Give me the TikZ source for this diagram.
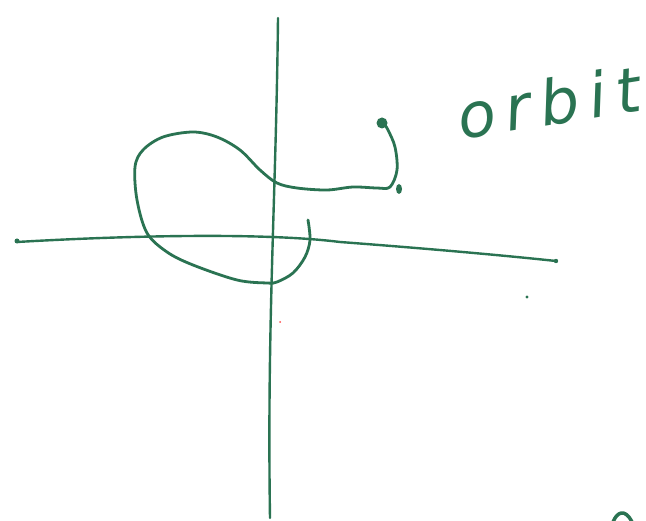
\documentclass[tikz,border=0pt]{standalone}
\usepackage{fontspec}
\newfontfamily\handfont[LetterSpace=16]{DejaVu Sans}
\definecolor{pen}{RGB}{42,115,82}
\begin{document}
\begin{tikzpicture}[x=1pt,y=-1pt,
  ink/.style={draw=pen,line width=2.8pt,line cap=round,line join=round}]
\useasboundingbox[fill=white] (0,0) rectangle (646,521);
% vertical axis
\draw[ink,line width=2.4pt] (278,18) .. controls (276,200) and (267,320) .. (270,518);
% horizontal axis
\draw[ink,line width=2.4pt] (17,242) .. controls (120,236) and (260,232) .. (340,242) .. controls (420,248) and (500,255) .. (556,261);
\fill[pen] (17,241) circle (2.5);
\fill[pen] (556,261) circle (2.2);
% orbit curve
\draw[ink] plot[smooth,tension=0.55] coordinates {
 (308,220) (310,240) (305,257) (293,273) (277,282) (267,283) (237,280)
 (193,265) (167,252) (147,233) (137,200) (135,167) (143,150) (163,137)
 (193,132) (217,137) (240,150) (260,170) (277,183) (297,188) (327,190)
 (353,187) (377,188) (390,187) (397,170) (395,147) (388,130) (383,122)};
\fill[pen] (382,123) circle (5.5);
\fill[pen] (399,189) ellipse (3 and 5);
% stray marks
\fill[pen] (527,297) circle (1.6);
\fill[red!70] (280,322) circle (1);
\draw[ink,line width=3.5pt] (613,522) .. controls (617,512) and (625,508) .. (632,522);
% label
\node[text=pen,rotate=9,inner sep=0] (lbl) at (549,102) {\fontsize{62}{64}\selectfont\handfont\itshape orbit};
\end{tikzpicture}
\end{document}
